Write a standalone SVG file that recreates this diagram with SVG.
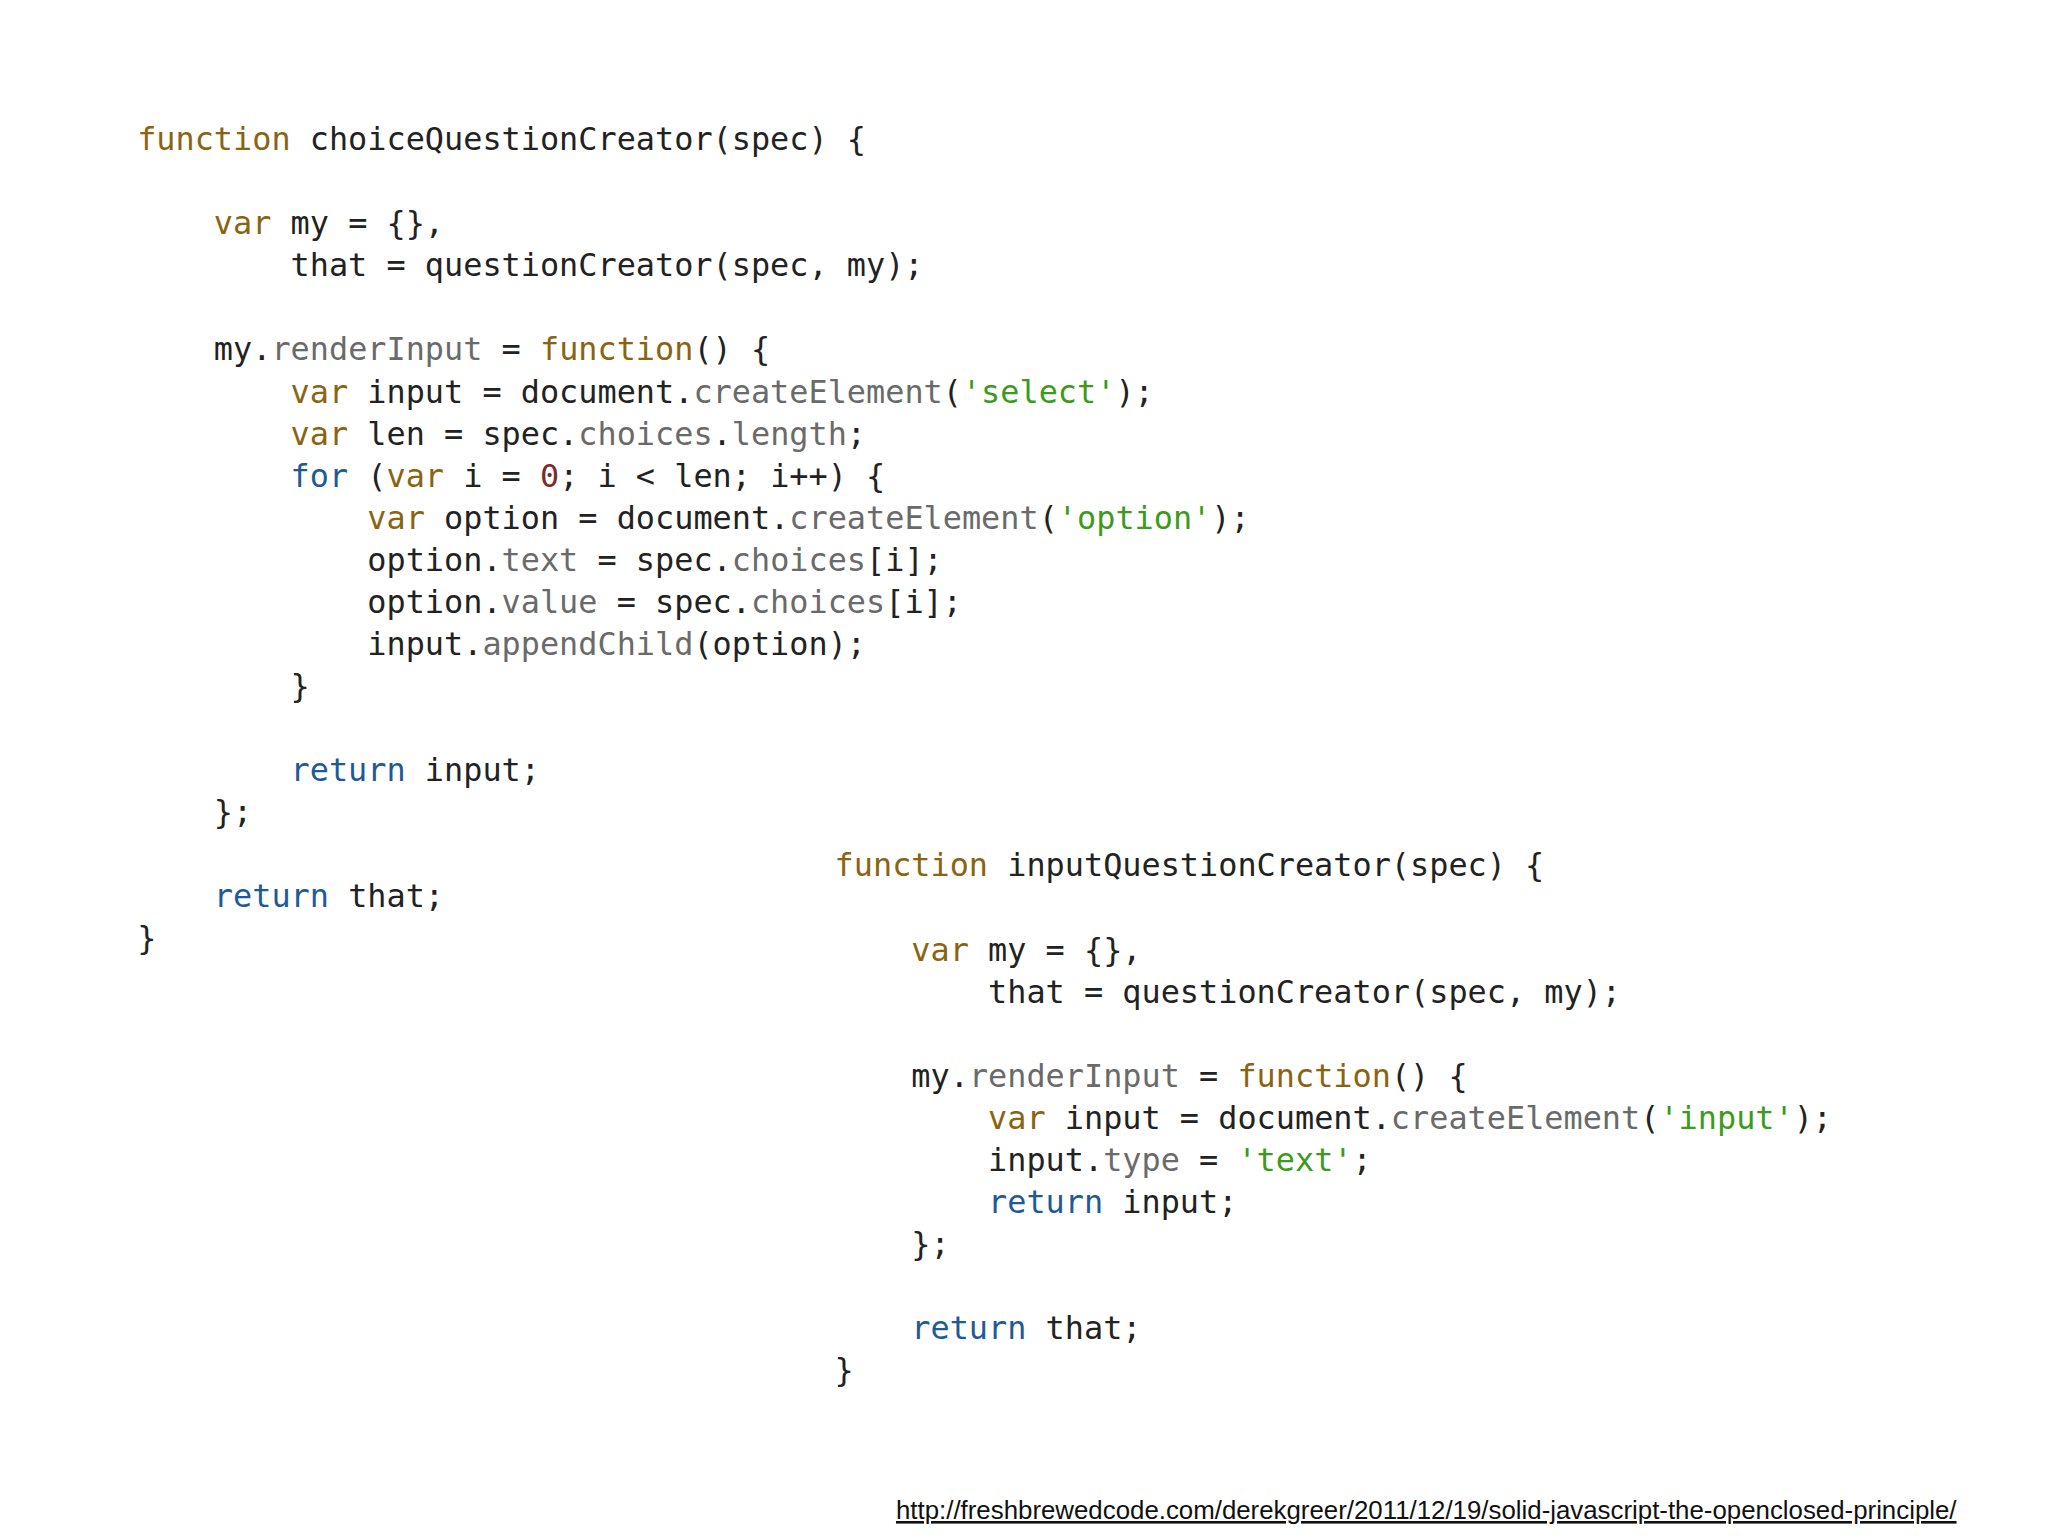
<svg xmlns="http://www.w3.org/2000/svg" width="2048" height="1536" viewBox="0 0 2048 1536">
<style>
text{font-family:"DejaVu Sans Mono","Liberation Mono",monospace;font-size:24.4px;fill:#222;white-space:pre}
.k{fill:#8a6410}.b{fill:#1e5a96}.p{fill:#6a6a6a}.s{fill:#3c9a1c}.n{fill:#7a2b2b}
.u{font-family:"Liberation Sans",Arial,sans-serif;font-size:20px;fill:#111;text-decoration:underline}
</style>
<rect width="2048" height="1536" fill="#fff"/>
<g transform="scale(1.3061)">
<g id="choice" xml:space="preserve">
<text x="105" y="115"><tspan class="k">function</tspan> choiceQuestionCreator(spec) {</text>
<text x="105" y="179.4">    <tspan class="k">var</tspan> my = {},</text>
<text x="105" y="211.6">        that = questionCreator(spec, my);</text>
<text x="105" y="276">    my.<tspan class="p">renderInput</tspan> = <tspan class="k">function</tspan>() {</text>
<text x="105" y="308.2">        <tspan class="k">var</tspan> input = document.<tspan class="p">createElement</tspan>(<tspan class="s">'select'</tspan>);</text>
<text x="105" y="340.4">        <tspan class="k">var</tspan> len = spec.<tspan class="p">choices</tspan>.<tspan class="p">length</tspan>;</text>
<text x="105" y="372.6">        <tspan class="b">for</tspan> (<tspan class="k">var</tspan> i = <tspan class="n">0</tspan>; i &lt; len; i++) {</text>
<text x="105" y="404.8">            <tspan class="k">var</tspan> option = document.<tspan class="p">createElement</tspan>(<tspan class="s">'option'</tspan>);</text>
<text x="105" y="437">            option.<tspan class="p">text</tspan> = spec.<tspan class="p">choices</tspan>[i];</text>
<text x="105" y="469.2">            option.<tspan class="p">value</tspan> = spec.<tspan class="p">choices</tspan>[i];</text>
<text x="105" y="501.4">            input.<tspan class="p">appendChild</tspan>(option);</text>
<text x="105" y="533.6">        }</text>
<text x="105" y="598">        <tspan class="b">return</tspan> input;</text>
<text x="105" y="630.2">    };</text>
<text x="105" y="694.6">    <tspan class="b">return</tspan> that;</text>
<text x="105" y="726.8">}</text>
</g>
<g id="input" xml:space="preserve">
<text x="639" y="671"><tspan class="k">function</tspan> inputQuestionCreator(spec) {</text>
<text x="639" y="735.4">    <tspan class="k">var</tspan> my = {},</text>
<text x="639" y="767.6">        that = questionCreator(spec, my);</text>
<text x="639" y="832">    my.<tspan class="p">renderInput</tspan> = <tspan class="k">function</tspan>() {</text>
<text x="639" y="864.2">        <tspan class="k">var</tspan> input = document.<tspan class="p">createElement</tspan>(<tspan class="s">'input'</tspan>);</text>
<text x="639" y="896.4">        input.<tspan class="p">type</tspan> = <tspan class="s">'text'</tspan>;</text>
<text x="639" y="928.6">        <tspan class="b">return</tspan> input;</text>
<text x="639" y="960.8">    };</text>
<text x="639" y="1025.2">    <tspan class="b">return</tspan> that;</text>
<text x="639" y="1057.4">}</text>
</g>
<text class="u" x="686" y="1163" textLength="812" lengthAdjust="spacingAndGlyphs">http://freshbrewedcode.com/derekgreer/2011/12/19/solid-javascript-the-openclosed-principle/</text>
</g>
</svg>
